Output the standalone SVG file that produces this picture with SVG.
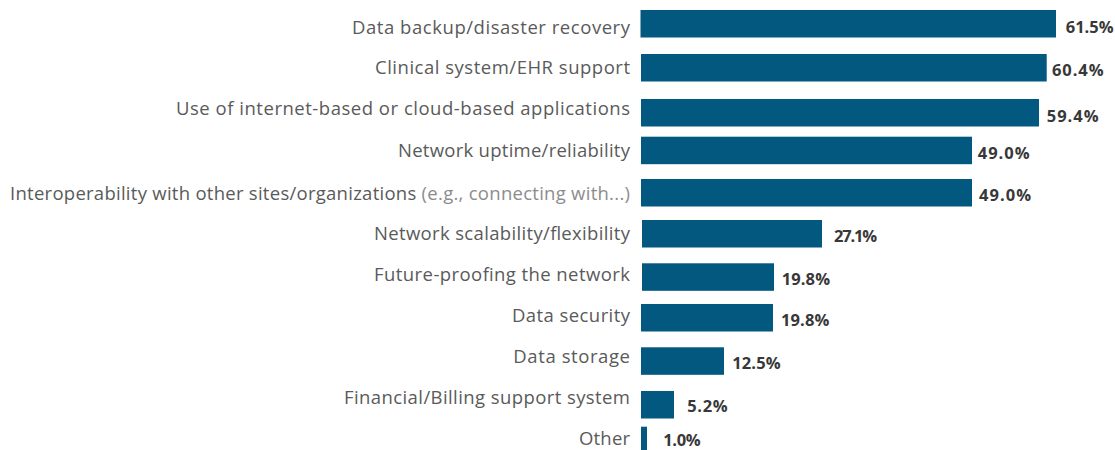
<svg xmlns="http://www.w3.org/2000/svg" width="1115" height="450" viewBox="0 0 1115 450">
<style>
.bar{fill:#02587e}
.lbl{font-family:"Open Sans","Liberation Sans",sans-serif;font-size:18.5px;fill:#5a5a5a;text-anchor:end}
.lt{fill:#8c8c8c}
.val{font-family:"Open Sans","Liberation Sans",sans-serif;font-size:16.5px;font-weight:bold;fill:#383838}
</style>
<rect width="1115" height="450" fill="#ffffff"/>
<g id="n1"><rect class="bar" x="640.5" y="10" width="415.5" height="27.5"/><text class="lbl" x="630" y="34" textLength="278">Data backup/disaster recovery</text><text class="val" x="1065.7" y="32.5" textLength="48">61.5%</text></g>
<g id="n2"><rect class="bar" x="641" y="54" width="405.7" height="27.5"/><text class="lbl" x="630" y="73.5" textLength="255">Clinical system/EHR support</text><text class="val" x="1052" y="76" textLength="51.5">60.4%</text></g>
<g id="n3"><rect class="bar" x="641" y="99" width="398" height="27.5"/><text class="lbl" x="630" y="115" textLength="454">Use of internet-based or cloud-based applications</text><text class="val" x="1046.7" y="121.5" textLength="52">59.4%</text></g>
<g id="n4"><rect class="bar" x="641" y="136.7" width="331" height="27.5"/><text class="lbl" x="630" y="157.3" textLength="232">Network uptime/reliability</text><text class="val" x="977.7" y="159" textLength="52">49.0%</text></g>
<g id="n5"><rect class="bar" x="641" y="179" width="331" height="27.5"/><text class="lbl" x="630" y="200" textLength="620">Interoperability with other sites/organizations <tspan class="lt">(e.g., connecting with...)</tspan></text><text class="val" x="979" y="200.5" textLength="52">49.0%</text></g>
<g id="n6"><rect class="bar" x="642" y="220" width="180" height="27.5"/><text class="lbl" x="630" y="240" textLength="256">Network scalability/flexibility</text><text class="val" x="834" y="242" textLength="43">27.1%</text></g>
<g id="n7"><rect class="bar" x="642" y="263.3" width="132" height="27.5"/><text class="lbl" x="630" y="280.7" textLength="256">Future-proofing the network</text><text class="val" x="781.7" y="285" textLength="48.3">19.8%</text></g>
<g id="n8"><rect class="bar" x="641" y="304" width="132" height="27.5"/><text class="lbl" x="630" y="321.7" textLength="118">Data security</text><text class="val" x="781" y="326" textLength="48.3">19.8%</text></g>
<g id="n9"><rect class="bar" x="641" y="347.3" width="83" height="27.5"/><text class="lbl" x="630" y="362.7" textLength="116.7">Data storage</text><text class="val" x="732.3" y="369" textLength="48.3">12.5%</text></g>
<g id="n10"><rect class="bar" x="641" y="391" width="33" height="27.5"/><text class="lbl" x="630" y="404" textLength="286">Financial/Billing support system</text><text class="val" x="687.3" y="412.3" textLength="40.3">5.2%</text></g>
<g id="n11"><rect class="bar" x="641" y="426.7" width="6" height="23.3"/><text class="lbl" x="630" y="445" textLength="51">Other</text><text class="val" x="663.3" y="446" textLength="37.3">1.0%</text></g>
</svg>
